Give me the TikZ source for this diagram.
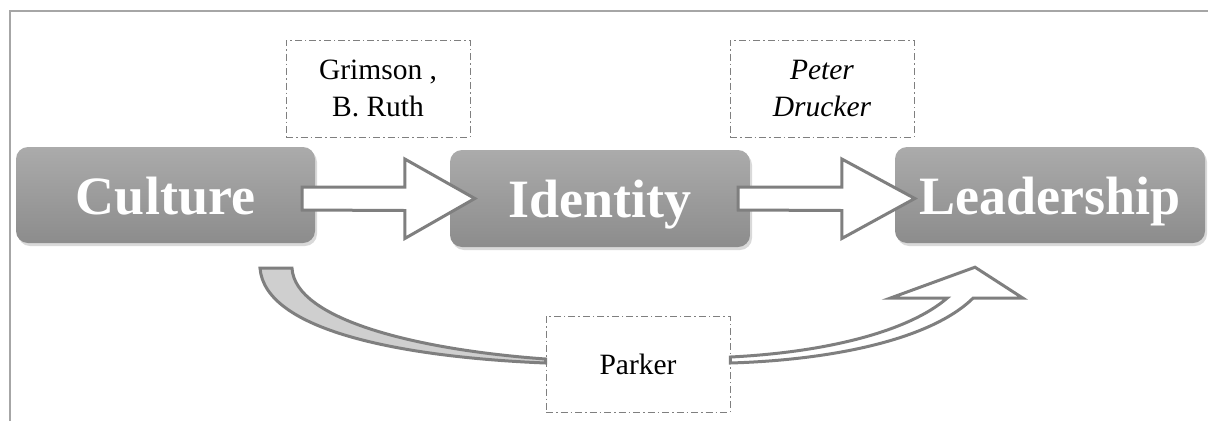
\documentclass[tikz,border=0pt]{standalone}
\usepackage{fontspec}
\setmainfont{Liberation Serif}
\usepackage{xcolor}
\usetikzlibrary{calc,shadows,positioning}
\definecolor{edgegray}{HTML}{7F7F7F}
\definecolor{framegray}{HTML}{A6A6A6}
\definecolor{shaftgray}{HTML}{CFCFCF}

\begin{document}
\begin{tikzpicture}[x=1pt,y=-1pt,
    mainbox/.style={rounded corners=12pt, top color=black!33, bottom color=black!45,
      minimum width=300pt, minimum height=96pt, inner sep=0pt,
      text=white, font=\fontsize{54}{60}\selectfont\bfseries, text height=38pt, text depth=0pt,
      drop shadow={opacity=0.3, shadow xshift=2pt, shadow yshift=-3pt}},
    notebox/.style={draw=edgegray, line width=0.9pt, dash pattern=on 7pt off 3pt on 1.5pt off 3pt,
      minimum width=184pt, minimum height=97pt, align=center, fill=white,
      font=\fontsize{29.5}{37}\selectfont},
    blockarrow/.style={draw=edgegray, fill=white, line width=3pt, line join=miter},
    curvearrow/.style={draw=edgegray, line width=3pt, line join=miter}]
		\useasboundingbox (0,0) rectangle (1208,421);
		\draw[framegray, line width=2pt] (10,421) -- (10,11) -- (1208,11);
		% main boxes
		\node[mainbox, minimum width=299pt] (culture) at (165.5,195) {Culture};
		\node[mainbox, minimum height=97pt] (identity) at (600,198.5) {Identity};
		\node[mainbox, minimum width=310pt] (leadership) at (1050,195) {Leadership};
		% notes
		\node[notebox] (grimson) at (378,88.5) {Grimson ,\\B. Ruth};
		\node[notebox, font=\fontsize{29.5}{37}\selectfont\itshape] (drucker) at (822,88.5) {Peter\\Drucker};
		\node[notebox, minimum height=96pt] (parker) at (638,364) {Parker};
		% block arrows
		\draw[blockarrow] ($(culture.east |- identity.west)+(-13,-11.5)$) -- ($(identity.west)+(-45,-11.5)$) -- ++(0,-28)
			-- ($(identity.west)+(25,0)$) -- ($(identity.west)+(-45,40)$) -- ++(0,-28)
			-- ($(culture.east |- identity.west)+(-13,11.5)$) -- cycle;
		\draw[blockarrow] ($(identity.east)+(-12,-11.5)$) -- ($(leadership.west |- identity.east)+(-53,-11.5)$) -- ++(0,-28)
			-- ($(leadership.west |- identity.east)+(20,0)$) -- ($(leadership.west |- identity.east)+(-53,40)$) -- ++(0,-28)
			-- ($(identity.east)+(-12,11.5)$) -- cycle;
		% curved arrow under the boxes
		\coordinate (curvestart) at ($(culture.south)+(94.5,25)$);
		\coordinate (tip) at ($(leadership.south)+(-75,24)$);
		\draw[curvearrow, fill=shaftgray] (curvestart) -- ++(32,0) .. controls +(3,52) and +(-126,-9) .. ($(parker.west)+(0,-5)$)
			-- ($(parker.west)+(0,-1)$) .. controls +(-146,-6) and +(5,62) .. (curvestart) -- cycle;
		\draw[curvearrow, fill=white] ($(parker.east)+(0,-7)$) .. controls +(100,-5) and +(-37,32) .. ($(tip)+(-28,31)$)
			-- ($(tip)+(-85,31)$) -- (tip) -- ($(tip)+(48,31)$) -- ($(tip)+(-2,31)$)
			.. controls +(-43,42) and +(100,-3) .. ($(parker.east)+(0,-1)$) -- cycle;
\end{tikzpicture}
\end{document}
